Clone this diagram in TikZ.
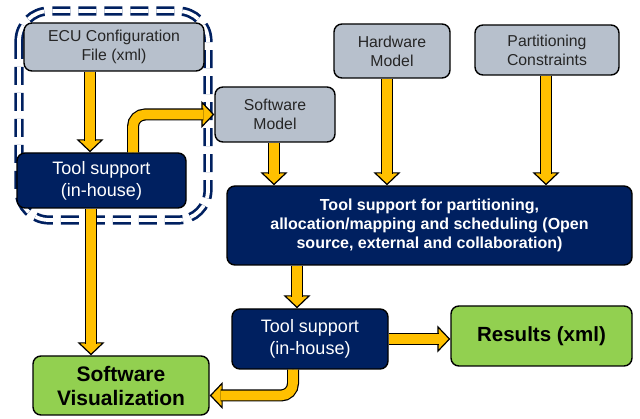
\documentclass[tikz,border=0pt]{standalone}
\usepackage{fontspec}
\setmainfont{Liberation Sans}
\usetikzlibrary{arrows.meta,backgrounds,calc}
\definecolor{navy}{HTML}{002060}
\definecolor{boxgray}{HTML}{B7C0CC}
\definecolor{boxgreen}{HTML}{92D050}
\definecolor{arrowor}{HTML}{FFC000}
\definecolor{txtgray}{HTML}{262626}
\tikzset{
 base/.style={draw=black, line width=1.4pt, rounded corners=8pt, align=center, inner sep=2pt},
 inbox/.style={base, fill=boxgray, text=txtgray, font=\fontsize{15.8}{19}\selectfont},
 toolbox/.style={base, fill=navy, text=white, font=\fontsize{18}{22}\selectfont},
 bigbox/.style={base, fill=navy, text=white, font=\bfseries\fontsize{16}{19}\selectfont},
 outbox/.style={base, fill=boxgreen, text=black, font=\bfseries\fontsize{21}{24}\selectfont},
 fathead/.style={draw=black, line width=1.2pt, rounded corners=12pt, -{Triangle[length=13pt,width=27pt,fill=arrowor]}},
 fatshaft/.style={draw=black, line width=1.2pt, double=arrowor, double distance=9.6pt, rounded corners=12pt, shorten >=11pt},
 groupline/.style={draw=navy, line width=2.7pt, double=white, double distance=3.8pt, dash pattern=on 18pt off 8pt, rounded corners=30pt}
}
\newcommand\fatpath[1]{\draw[fathead] #1; \draw[fatshaft] #1;}
\begin{document}
\begin{tikzpicture}[x=1pt,y=-1pt]
\useasboundingbox (0,0) rectangle (640,419);
% nodes
\node[inbox, minimum width=180pt, minimum height=48pt] (ecu) at (114,47) {ECU Configuration\\File (xml)};
\node[toolbox, minimum width=169pt, minimum height=55pt] (tool1) at (101.5,180.5) {Tool support\\(in-house)};
\node[inbox, minimum width=120pt, minimum height=55pt] (swm) at (275,114.5) {Software\\Model};
\node[inbox, minimum width=116pt, minimum height=54pt] (hwm) at (392,51) {Hardware\\Model};
\node[inbox, minimum width=144pt, minimum height=50pt] (part) at (547,50) {Partitioning\\Constraints};
\node[bigbox, minimum width=405pt, minimum height=79pt] (big) at (429.5,225.5) {Tool support for partitioning,\\allocation/mapping and scheduling (Open\\source, external and collaboration)};
\node[toolbox, minimum width=156pt, minimum height=60pt] (tool2) at (310,339) {Tool support\\(in-house)};
\node[outbox, font=\bfseries\fontsize{20.5}{24}\selectfont, minimum width=181pt, minimum height=60pt] (res) at (541.5,336) {Results (xml)};
\node[outbox, minimum width=176pt, minimum height=59pt] (sv) at (121,385.5) {Software\\Visualization};
% group frame
\begin{pgfonlayer}{background}
\draw[groupline] (19,11) rectangle (208,220);
\end{pgfonlayer}
% connectors
\fatpath{([xshift=-24pt]ecu.south) -- ([xshift=-24pt]ecu.south |- tool1.north)}
\fatpath{([xshift=31.5pt]tool1.north) |- (swm.west)}
\fatpath{([xshift=-10.5pt]tool1.south) -- ([xshift=-10.5pt]tool1.south |- sv.north)}
\fatpath{([xshift=-1pt]swm.south) -- ([xshift=-1pt]swm.south |- big.north)}
\fatpath{([xshift=-5pt]hwm.south) -- ([xshift=-5pt]hwm.south |- big.north)}
\fatpath{([xshift=-1pt]part.south) -- ([xshift=-1pt]part.south |- big.north)}
\fatpath{([xshift=-13pt]tool2.north |- big.south) -- ([xshift=-13pt]tool2.north)}
\fatpath{(tool2.east) -- (tool2.east -| res.west)}
\fatpath{([xshift=-17pt]tool2.south) |- ([yshift=-10pt]sv.east)}
\end{tikzpicture}
\end{document}
